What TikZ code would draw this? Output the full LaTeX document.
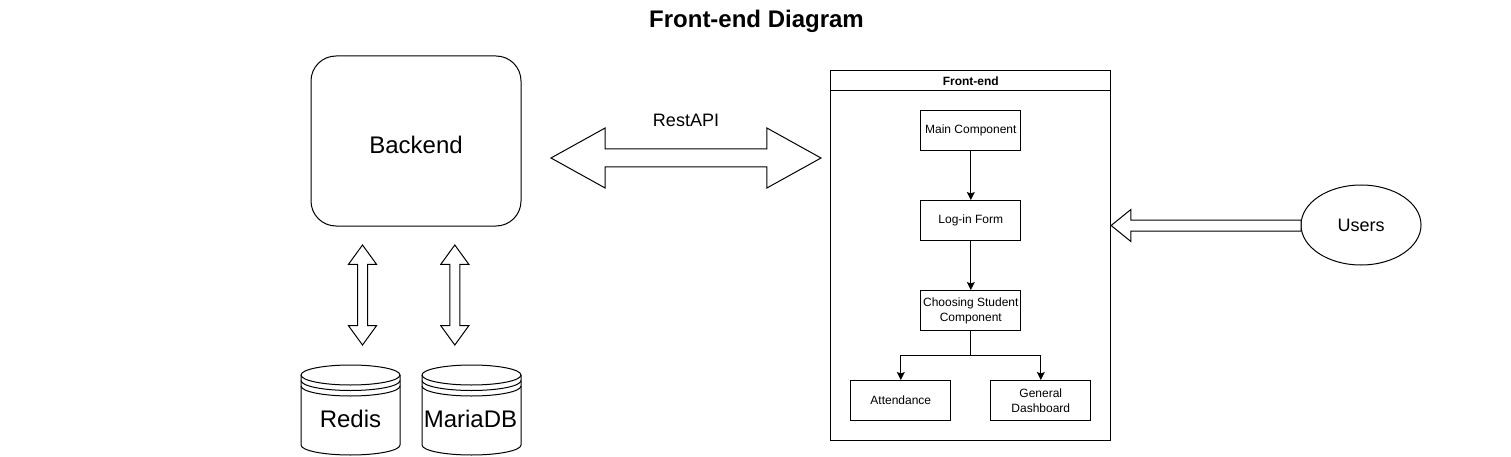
\documentclass[tikz,border=0pt]{standalone}
\usepackage{fontspec}
\setmainfont{Liberation Sans}
\usetikzlibrary{arrows.meta,shapes.geometric,shapes.arrows}
\tikzset{
  comp/.style={draw=black,line width=1pt,minimum width=100pt,minimum height=40pt,inner sep=0pt,align=center,font=\fontsize{12}{15}\selectfont},
  flow/.style={draw=black,line width=1pt,-{Stealth[length=8pt,width=8pt,inset=1.5pt]}},
  bigtext/.style={font=\fontsize{24}{28}\selectfont},
  midtext/.style={font=\fontsize{18}{22}\selectfont},
  twoway/.style={double arrow,draw=black,fill=white,line width=1pt,inner xsep=0pt},
  store/.pic={
    \draw[line width=1pt,fill=white] (-49.5,-35) arc[start angle=180,end angle=0,x radius=49.5pt,y radius=10pt]
      -- (49.5,35) arc[start angle=0,end angle=-180,x radius=49.5pt,y radius=10pt] -- cycle;
    \draw[line width=1pt] (-49.5,-35) arc[start angle=180,end angle=360,x radius=49.5pt,y radius=10pt];
    \draw[line width=1pt] (-49.5,-29.5) arc[start angle=180,end angle=360,x radius=49.5pt,y radius=10pt];
    \draw[line width=1pt] (-49.5,-24) arc[start angle=180,end angle=360,x radius=49.5pt,y radius=10pt];
  }
}
\begin{document}
\begin{tikzpicture}[x=1pt,y=-1pt]
   \useasboundingbox (0,0) rectangle (1511,457);
   \node[font=\fontsize{24}{28}\selectfont\bfseries] (title) at (756.5,21) {Front-end Diagram};
   % left side
   \node[draw=black,line width=1pt,rounded corners=25pt,minimum width=210pt,minimum height=170pt,inner sep=0pt,bigtext,text height=25pt,text depth=0pt] (backend) at (416,141) {Backend};
   \pic at (350.5,410) {store};
   \pic at (471.5,410) {store};
   \node[bigtext] (redis) at (350.5,419) {Redis};
   \node[bigtext] (mariadb) at (470.5,419) {MariaDB};
   \node[twoway,rotate=90,inner ysep=4.5pt,minimum height=100pt,minimum width=27pt,double arrow head extend=9pt,double arrow tip angle=72] (redisarrow) at (362.5,295) {};
   \node[twoway,rotate=90,inner ysep=4.5pt,minimum height=100pt,minimum width=27pt,double arrow head extend=9pt,double arrow tip angle=72] (mariaarrow) at (454.8,295) {};
   % rest link
   \node[twoway,inner ysep=8.5pt,minimum height=270pt,minimum width=59pt,double arrow head extend=21pt,double arrow tip angle=58] (restarrow) at (686,158) {};
   \node[midtext] (rest) at (686,120) {RestAPI};
   % front-end box
   \node[draw=black,line width=1pt,minimum width=280pt,minimum height=369pt] (frontend) at (970.8,255.5) {};
   \node[draw=black,line width=1pt,minimum width=280pt,minimum height=20pt,inner sep=0pt,font=\fontsize{12}{14}\selectfont\bfseries] (fronthead) at (970.8,81) {Front-end};
   \node[comp] (main) at (970.8,130.5) {Main Component};
   \node[comp] (login) at (970.8,220.5) {Log-in Form};
   \node[comp] (choosing) at (970.8,310.5) {Choosing Student\\Component};
   \node[comp] (attendance) at (900.8,400.5) {Attendance};
   \node[comp] (dashboard) at (1040.8,400.5) {General\\Dashboard};
   \coordinate (split) at (970.8,355);
   \draw[flow] (main) -- (login);
   \draw[flow] (login) -- (choosing);
   \draw[line width=1pt] (choosing) -- (split);
   \draw[flow] (split) -| (attendance);
   \draw[flow] (split) -| (dashboard);
   % users
   \node[draw=black,line width=1pt,ellipse,minimum width=120pt,minimum height=80pt,inner sep=0pt,midtext] (users) at (1361,225) {Users};
   \node[single arrow,draw=black,fill=white,line width=1pt,inner xsep=0pt,inner ysep=5pt,shape border rotate=180,minimum height=190pt,minimum width=31pt,single arrow head extend=10.5pt,single arrow tip angle=78] (userarrow) at (1209.5,225.5) {};
\end{tikzpicture}
\end{document}
